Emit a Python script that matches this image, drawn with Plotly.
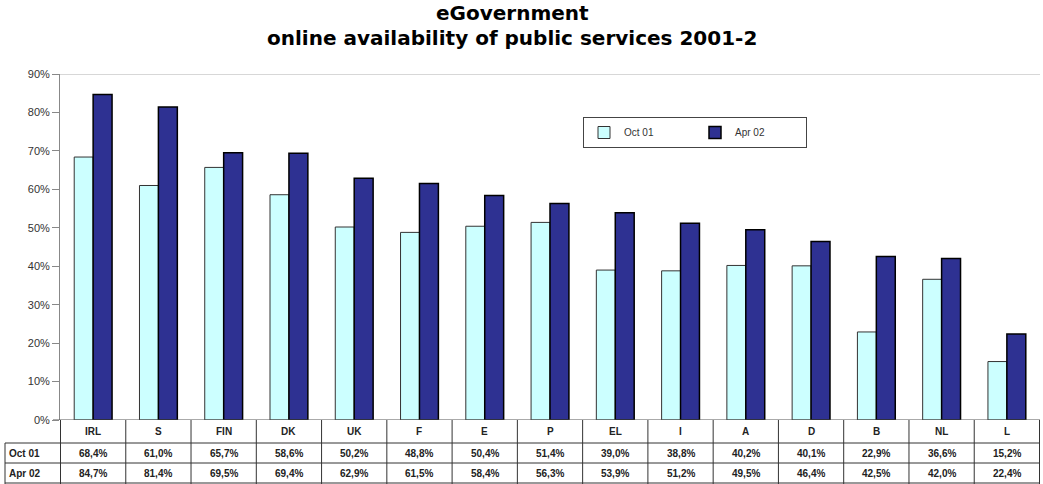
import plotly.graph_objects as go

countries = ["IRL", "S", "FIN", "DK", "UK", "F", "E", "P", "EL", "I", "A", "D", "B", "NL", "L"]
oct01 = [68.4, 61.0, 65.7, 58.6, 50.2, 48.8, 50.4, 51.4, 39.0, 38.8, 40.2, 40.1, 22.9, 36.6, 15.2]
apr02 = [84.7, 81.4, 69.5, 69.4, 62.9, 61.5, 58.4, 56.3, 53.9, 51.2, 49.5, 46.4, 42.5, 42.0, 22.4]
series_names = ["Oct 01", "Apr 02"]
y_ticks = [0, 10, 20, 30, 40, 50, 60, 70, 80, 90]
title_lines = ["eGovernment", "online availability of public services 2001-2"]

W, H = 1043, 484
ML, MR, MT, MB = 60, 3, 74, 64
PH = H - MT - MB
PW = W - ML - MR

def py(px):
    # pixel y (from top) -> paper y
    return (H - MB - px) / PH

def fmt(v):
    return f"{v:.1f}".replace(".", ",") + "%"

fig = go.Figure()
fig.add_trace(go.Bar(x=countries, y=[v / 100 for v in oct01], name=series_names[0],
                     marker=dict(color="#CCFFFF", line=dict(color="#333333", width=1))))
fig.add_trace(go.Bar(x=countries, y=[v / 100 for v in apr02], name=series_names[1],
                     marker=dict(color="#2E3192", line=dict(color="#000000", width=1.5))))

shapes = []
# top gray line at 90%
shapes.append(dict(type="line", xref="paper", yref="y", x0=0, x1=1, y0=0.9, y1=0.9,
                   line=dict(color="#B0B0B0", width=1)))
# table horizontal lines
for ypx in [443, 463, 483]:
    shapes.append(dict(type="line", xref="paper", yref="paper", x0=-55 / PW, x1=1,
                       y0=py(ypx), y1=py(ypx), line=dict(color="#333333", width=1)))
# vertical lines
n = len(countries)
for k in range(n + 1):
    shapes.append(dict(type="line", xref="x", yref="paper", x0=k - 0.5, x1=k - 0.5,
                       y0=0, y1=py(484), line=dict(color="#333333", width=1)))
shapes.append(dict(type="line", xref="paper", yref="paper", x0=-55 / PW, x1=-55 / PW,
                   y0=py(443), y1=py(484), line=dict(color="#333333", width=1)))
# x axis baseline and its tick
shapes.append(dict(type="line", xref="paper", yref="y", x0=-7 / PW, x1=1, y0=0, y1=0,
                   line=dict(color="#555555", width=1)))

tfont = dict(family="Liberation Sans", size=10, color="#222222")
annotations = []
for i, c in enumerate(countries):
    annotations.append(dict(x=c, y=py(431), xref="x", yref="paper", text="<b>" + c + "</b>", showarrow=False,
                            font=tfont, xanchor="center", yanchor="middle"))
    annotations.append(dict(x=c, y=py(453), xref="x", yref="paper", text="<b>" + fmt(oct01[i]) + "</b>",
                            showarrow=False, font=tfont, xanchor="center", yanchor="middle"))
    annotations.append(dict(x=c, y=py(473), xref="x", yref="paper", text="<b>" + fmt(apr02[i]) + "</b>",
                            showarrow=False, font=tfont, xanchor="center", yanchor="middle"))
for name, ypx in zip(series_names, [453, 473]):
    annotations.append(dict(x=-53 / PW, y=py(ypx), xref="paper", yref="paper",
                            text="<b>" + name + "</b>", showarrow=False,
                            font=tfont, xanchor="left", yanchor="middle"))
# title lines
for line, ypx in zip(title_lines, [13, 38]):
    annotations.append(dict(x=(512 - ML) / PW, y=py(ypx), xref="paper", yref="paper",
                            text="<b>" + line + "</b>", showarrow=False,
                            font=dict(family="DejaVu Sans", size=20, color="#000000"),
                            xanchor="center", yanchor="middle"))

fig.update_layout(
    width=W, height=H,
    margin=dict(l=ML, r=MR, t=MT, b=MB),
    paper_bgcolor="white", plot_bgcolor="white",
    barmode="group", bargap=0.42, bargroupgap=0,
    showlegend=True,
    legend=dict(orientation="h", x=(583 - ML) / PW, y=py(117), xanchor="left", yanchor="top",
                bordercolor="#444444", borderwidth=1, bgcolor="white",
                font=dict(family="Liberation Sans", size=10, color="#333333"),
                entrywidth=66, itemwidth=30, traceorder="normal", valign="middle"),
    xaxis=dict(showticklabels=False, showline=False, showgrid=False, zeroline=False, ticks=""),
    yaxis=dict(range=[0, 0.9], tickvals=[t / 100 for t in y_ticks], ticktext=[f"{t}%" for t in y_ticks],
               showgrid=False, zeroline=False, showline=True, linecolor="#888888", linewidth=1,
               ticks="outside", ticklen=7, tickcolor="#888888",
               tickfont=dict(family="Liberation Sans", size=11, color="#333333")),
    shapes=shapes, annotations=annotations,
)

fig.write_html("out.html", config={"displayModeBar": False},
               post_script="document.body.style.margin='0';")
